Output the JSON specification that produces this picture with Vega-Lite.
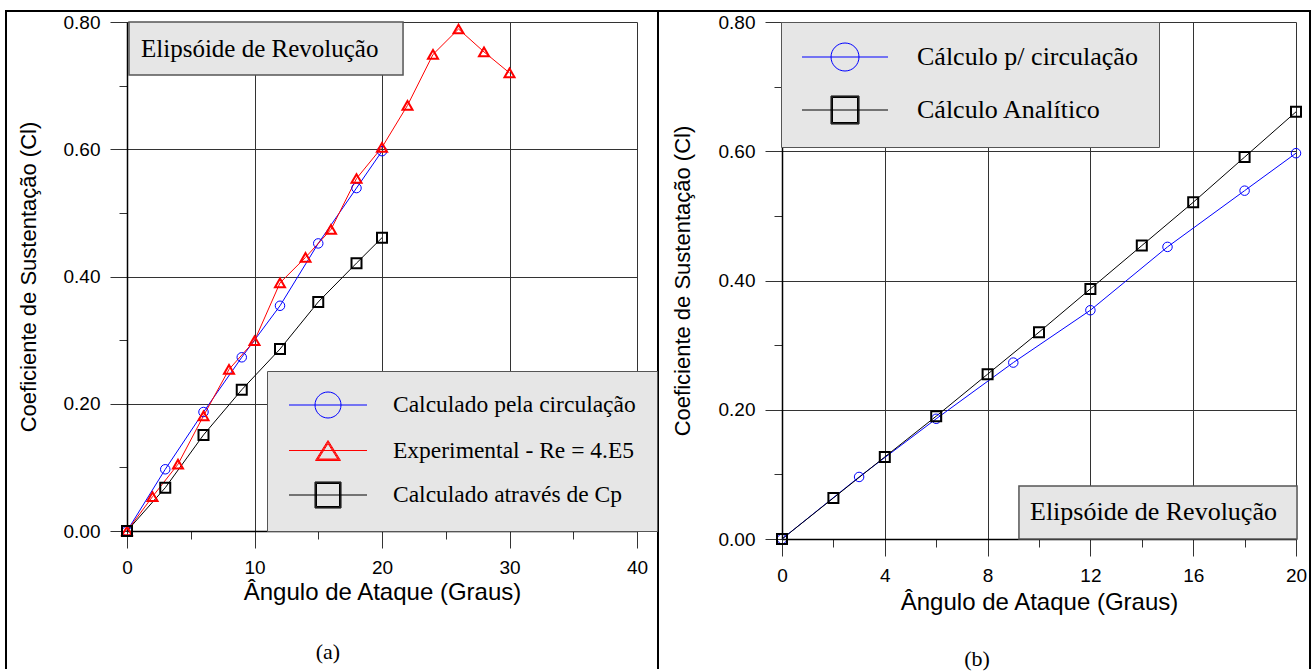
{
  "$schema": "https://vega.github.io/schema/vega-lite/v6.json",
  "background": "white",
  "padding": {"left": 5, "top": 8, "right": 0, "bottom": 0},
  "autosize": {"type": "pad"},
  "spacing": -4,
  "datasets": {
    "a": [
      {"serie": "Calculado pela circulação", "alpha": 0, "cl": 0},
      {"serie": "Calculado pela circulação", "alpha": 3, "cl": 0.097},
      {"serie": "Calculado pela circulação", "alpha": 6, "cl": 0.187},
      {"serie": "Calculado pela circulação", "alpha": 9, "cl": 0.273},
      {"serie": "Calculado pela circulação", "alpha": 12, "cl": 0.354},
      {"serie": "Calculado pela circulação", "alpha": 15, "cl": 0.452},
      {"serie": "Calculado pela circulação", "alpha": 18, "cl": 0.539},
      {"serie": "Calculado pela circulação", "alpha": 20, "cl": 0.597},
      {"serie": "Experimental - Re = 4.E5", "alpha": 0, "cl": 0},
      {"serie": "Experimental - Re = 4.E5", "alpha": 2, "cl": 0.054},
      {"serie": "Experimental - Re = 4.E5", "alpha": 4, "cl": 0.105},
      {"serie": "Experimental - Re = 4.E5", "alpha": 6, "cl": 0.181},
      {"serie": "Experimental - Re = 4.E5", "alpha": 8, "cl": 0.254},
      {"serie": "Experimental - Re = 4.E5", "alpha": 10, "cl": 0.299},
      {"serie": "Experimental - Re = 4.E5", "alpha": 12, "cl": 0.39},
      {"serie": "Experimental - Re = 4.E5", "alpha": 14, "cl": 0.43},
      {"serie": "Experimental - Re = 4.E5", "alpha": 16, "cl": 0.474},
      {"serie": "Experimental - Re = 4.E5", "alpha": 18, "cl": 0.554},
      {"serie": "Experimental - Re = 4.E5", "alpha": 20, "cl": 0.603},
      {"serie": "Experimental - Re = 4.E5", "alpha": 22, "cl": 0.669},
      {"serie": "Experimental - Re = 4.E5", "alpha": 24, "cl": 0.749},
      {"serie": "Experimental - Re = 4.E5", "alpha": 26, "cl": 0.789},
      {"serie": "Experimental - Re = 4.E5", "alpha": 28, "cl": 0.753},
      {"serie": "Experimental - Re = 4.E5", "alpha": 30, "cl": 0.72},
      {"serie": "Calculado através de Cp", "alpha": 0, "cl": 0},
      {"serie": "Calculado através de Cp", "alpha": 3, "cl": 0.068},
      {"serie": "Calculado através de Cp", "alpha": 6, "cl": 0.151},
      {"serie": "Calculado através de Cp", "alpha": 9, "cl": 0.222},
      {"serie": "Calculado através de Cp", "alpha": 12, "cl": 0.286},
      {"serie": "Calculado através de Cp", "alpha": 15, "cl": 0.36},
      {"serie": "Calculado através de Cp", "alpha": 18, "cl": 0.421},
      {"serie": "Calculado através de Cp", "alpha": 20, "cl": 0.461}
    ],
    "b": [
      {"serie": "Cálculo p/ circulação", "alpha": 0, "cl": 0},
      {"serie": "Cálculo p/ circulação", "alpha": 3, "cl": 0.096},
      {"serie": "Cálculo p/ circulação", "alpha": 6, "cl": 0.186},
      {"serie": "Cálculo p/ circulação", "alpha": 9, "cl": 0.273},
      {"serie": "Cálculo p/ circulação", "alpha": 12, "cl": 0.354},
      {"serie": "Cálculo p/ circulação", "alpha": 15, "cl": 0.452},
      {"serie": "Cálculo p/ circulação", "alpha": 18, "cl": 0.539},
      {"serie": "Cálculo p/ circulação", "alpha": 20, "cl": 0.597},
      {"serie": "Cálculo Analítico", "alpha": 0, "cl": 0},
      {"serie": "Cálculo Analítico", "alpha": 2, "cl": 0.0635},
      {"serie": "Cálculo Analítico", "alpha": 4, "cl": 0.127},
      {"serie": "Cálculo Analítico", "alpha": 6, "cl": 0.19},
      {"serie": "Cálculo Analítico", "alpha": 8, "cl": 0.255},
      {"serie": "Cálculo Analítico", "alpha": 10, "cl": 0.32},
      {"serie": "Cálculo Analítico", "alpha": 12, "cl": 0.387},
      {"serie": "Cálculo Analítico", "alpha": 14, "cl": 0.454},
      {"serie": "Cálculo Analítico", "alpha": 16, "cl": 0.521},
      {"serie": "Cálculo Analítico", "alpha": 18, "cl": 0.591},
      {"serie": "Cálculo Analítico", "alpha": 20, "cl": 0.661}
    ]
  },
  "hconcat": [
    {
      "width": 510,
      "height": 509,
      "layer": [
        {
          "data": {"name": "a"},
          "mark": {"type": "line", "strokeWidth": 1},
          "encoding": {
            "x": {"field": "alpha", "type": "quantitative",
              "scale": {"domain": [0, 40], "nice": false, "zero": false},
              "axis": {
                "title": "Ângulo de Ataque (Graus)",
                "values": [0, 5, 10, 15, 20, 25, 30, 35, 40],
                "grid": true, "gridColor": "#333333", "gridWidth": 1,
                "gridOpacity": {"condition": {"test": "datum.value % 10 === 0", "value": 1}, "value": 0},
                "tickSize": {"condition": {"test": "datum.value % 10 === 0", "value": 17}, "value": 8},
                "tickColor": "#333333", "tickWidth": 1,
                "domainColor": "#000000", "domainWidth": 1.5,
                "labelExpr": "datum.value % 10 === 0 ? datum.label : ''",
                "labelFont": "Liberation Sans", "labelFontSize": 19, "labelColor": "#000000", "labelPadding": 10,
                "labelOverlap": false, "labelFlush": false, "labelBound": false,
                "titleFont": "Liberation Sans", "titleFontSize": 24, "titleFontWeight": "normal", "titleColor": "#000000", "titlePadding": 3
              }
            },
            "y": {"field": "cl", "type": "quantitative",
              "scale": {"domain": [0, 0.8], "nice": false, "zero": false},
              "axis": {
                "title": "Coeficiente de Sustentação (Cl)",
                "values": [0, 0.1, 0.2, 0.3, 0.4, 0.5, 0.6, 0.7, 0.8],
                "grid": true, "gridColor": "#333333", "gridWidth": 1,
                "gridOpacity": {"condition": {"test": "round(datum.value*10) % 2 === 0", "value": 1}, "value": 0},
                "tickSize": {"condition": {"test": "round(datum.value*10) % 2 === 0", "value": 17}, "value": 8},
                "tickColor": "#333333", "tickWidth": 1,
                "domainColor": "#000000", "domainWidth": 1.5,
                "labelExpr": "round(datum.value*10) % 2 === 0 ? format(datum.value, '.2f') : ''",
                "labelFont": "Liberation Sans", "labelFontSize": 19, "labelColor": "#000000", "labelPadding": 10,
                "labelOverlap": false, "labelFlush": false, "labelBound": false,
                "titleFont": "Liberation Sans", "titleFontSize": 22, "titleFontWeight": "normal", "titleColor": "#000000", "titlePadding": 23
              }
            },
            "color": {"field": "serie", "type": "nominal",
              "scale": {"domain": ["Calculado pela circulação", "Experimental - Re = 4.E5", "Calculado através de Cp"], "range": ["#0000ff", "#ff0000", "#000000"]},
              "legend": null}
          }
        },
        {
          "data": {"name": "a"},
          "transform": [{"filter": "datum.serie === 'Calculado pela circulação'"}],
          "mark": {"type": "point", "shape": "circle", "filled": false, "color": "#0000ff", "size": 90, "strokeWidth": 1, "opacity": 1},
          "encoding": {"x": {"field": "alpha", "type": "quantitative"}, "y": {"field": "cl", "type": "quantitative"}}
        },
        {
          "data": {"name": "a"},
          "transform": [{"filter": "datum.serie === 'Experimental - Re = 4.E5'"}],
          "mark": {"type": "point", "shape": "triangle-up", "filled": false, "color": "#ff0000", "size": 100, "strokeWidth": 2, "opacity": 1},
          "encoding": {"x": {"field": "alpha", "type": "quantitative"}, "y": {"field": "cl", "type": "quantitative"}}
        },
        {
          "data": {"name": "a"},
          "transform": [{"filter": "datum.serie === 'Calculado através de Cp'"}],
          "mark": {"type": "point", "shape": "square", "filled": false, "color": "#000000", "size": 100, "strokeWidth": 2, "opacity": 1},
          "encoding": {"x": {"field": "alpha", "type": "quantitative"}, "y": {"field": "cl", "type": "quantitative"}}
        },
        {
          "data": {"values": [{}]},
          "mark": {"type": "rect", "fill": "#e6e6e6", "stroke": "#555555", "strokeWidth": 1.5, "clip": false},
          "encoding": {
            "x": {"datum": 0.157, "type": "quantitative"},
            "x2": {"datum": 21.65},
            "y": {"datum": 0.8, "type": "quantitative"},
            "y2": {"datum": 0.7167}
          }
        },
        {
          "data": {"values": [{}]},
          "mark": {"type": "text", "font": "Liberation Serif", "fontSize": 25, "align": "left", "baseline": "middle", "color": "#000000", "clip": false},
          "encoding": {
            "x": {"datum": 1.1, "type": "quantitative"},
            "y": {"datum": 0.7583, "type": "quantitative"},
            "text": {"value": "Elipsóide de Revolução"}
          }
        },
        {
          "data": {"values": [{}]},
          "mark": {"type": "rule", "color": "#000000", "strokeWidth": 2, "clip": false},
          "encoding": {
            "x": {"datum": -9.49, "type": "quantitative"},
            "x2": {"datum": 41.73},
            "y": {"datum": 0.8173, "type": "quantitative"}
          }
        },
        {
          "data": {"values": [{}]},
          "mark": {"type": "rule", "color": "#000000", "strokeWidth": 2, "clip": false},
          "encoding": {
            "x": {"datum": -9.49, "type": "quantitative"},
            "y": {"datum": 0.8189, "type": "quantitative"},
            "y2": {"datum": -0.2169}
          }
        },
        {
          "data": {"values": [{}]},
          "mark": {"type": "rule", "color": "#000000", "strokeWidth": 2, "clip": false},
          "encoding": {
            "x": {"datum": 41.647, "type": "quantitative"},
            "y": {"datum": 0.8189, "type": "quantitative"},
            "y2": {"datum": -0.2169}
          }
        },
        {
          "data": {"values": [{}]},
          "mark": {"type": "text", "font": "Liberation Serif", "fontSize": 22, "align": "center", "baseline": "middle", "color": "#000000", "clip": false},
          "encoding": {
            "x": {"datum": 15.76, "type": "quantitative"},
            "y": {"datum": -0.19, "type": "quantitative"},
            "text": {"value": "(a)"}
          }
        },
        {
          "data": {"values": [{"lg1": "-"}]},
          "transform": [{"filter": "false"}],
          "mark": {"type": "point", "filled": false, "opacity": 1, "strokeWidth": 1},
          "encoding": {
            "color": {"field": "lg1", "type": "nominal",
              "scale": {"domain": ["Calculado pela circulação", "Experimental - Re = 4.E5", "Calculado através de Cp"], "range": ["#0000ff", "#ff0000", "#000000"]},
              "legend": {
                "title": null, "orient": "none", "legendX": 140, "legendY": 349, "direction": "vertical",
                "padding": 21, "symbolOffset": 27, "labelOffset": 52, "rowPadding": 17.5,
                "symbolSize": 625, "symbolStrokeWidth": 1, "symbolOpacity": 1,
                "labelFont": "Liberation Serif", "labelFontSize": 23.5, "labelColor": "#000000", "labelLimit": 0,
                "fillColor": "#e6e6e6", "strokeColor": "#555555"
              }
            },
            "shape": {"field": "lg1", "type": "nominal",
              "scale": {"domain": ["Calculado pela circulação", "Experimental - Re = 4.E5", "Calculado através de Cp"],
                "range": [
                  "M-3.12,0H3.12M-1.04,0A1.04,1.04,0,1,1,1.04,0A1.04,1.04,0,1,1,-1.04,0",
                  "M-3.12,0H3.12M0,-0.8L1,0.8H-1ZM0,-0.683L0.89,0.741H-0.89ZM0,-0.565L0.78,0.683H-0.78Z",
                  "M-3.12,0H3.12M-1.04,-1.04H1.04V1.04H-1.04ZM-0.98,-0.98H0.98V0.98H-0.98ZM-0.92,-0.92H0.92V0.92H-0.92Z"
                ]},
              "legend": {
                "title": null, "orient": "none", "legendX": 140, "legendY": 349, "direction": "vertical",
                "padding": 21, "symbolOffset": 27, "labelOffset": 52, "rowPadding": 17.5,
                "symbolSize": 625, "symbolStrokeWidth": 1, "symbolOpacity": 1,
                "labelFont": "Liberation Serif", "labelFontSize": 23.5, "labelColor": "#000000", "labelLimit": 0,
                "fillColor": "#e6e6e6", "strokeColor": "#555555"
              }
            }
          }
        }
      ],
      "resolve": {"scale": {"color": "independent", "shape": "independent"}, "legend": {"color": "independent", "shape": "independent"}}
    },
    {
      "width": 514,
      "height": 517,
      "layer": [
        {
          "data": {"name": "b"},
          "mark": {"type": "line", "strokeWidth": 1},
          "encoding": {
            "x": {"field": "alpha", "type": "quantitative",
              "scale": {"domain": [0, 20], "nice": false, "zero": false},
              "axis": {
                "title": "Ângulo de Ataque (Graus)",
                "values": [0, 2, 4, 6, 8, 10, 12, 14, 16, 18, 20],
                "grid": true, "gridColor": "#333333", "gridWidth": 1,
                "gridOpacity": {"condition": {"test": "datum.value % 4 === 0", "value": 1}, "value": 0},
                "tickSize": {"condition": {"test": "datum.value % 4 === 0", "value": 17}, "value": 8},
                "tickColor": "#333333", "tickWidth": 1,
                "domainColor": "#000000", "domainWidth": 1.5,
                "labelExpr": "datum.value % 4 === 0 ? datum.label : ''",
                "labelFont": "Liberation Sans", "labelFontSize": 19, "labelColor": "#000000", "labelPadding": 10,
                "labelOverlap": false, "labelFlush": false, "labelBound": false,
                "titleFont": "Liberation Sans", "titleFontSize": 24, "titleFontWeight": "normal", "titleColor": "#000000", "titlePadding": 5
              }
            },
            "y": {"field": "cl", "type": "quantitative",
              "scale": {"domain": [0, 0.8], "nice": false, "zero": false},
              "axis": {
                "title": "Coeficiente de Sustentação (Cl)",
                "values": [0, 0.1, 0.2, 0.3, 0.4, 0.5, 0.6, 0.7, 0.8],
                "grid": true, "gridColor": "#333333", "gridWidth": 1,
                "gridOpacity": {"condition": {"test": "round(datum.value*10) % 2 === 0", "value": 1}, "value": 0},
                "tickSize": {"condition": {"test": "round(datum.value*10) % 2 === 0", "value": 17}, "value": 8},
                "tickColor": "#333333", "tickWidth": 1,
                "domainColor": "#000000", "domainWidth": 1.5,
                "labelExpr": "round(datum.value*10) % 2 === 0 ? format(datum.value, '.2f') : ''",
                "labelFont": "Liberation Sans", "labelFontSize": 19, "labelColor": "#000000", "labelPadding": 10,
                "labelOverlap": false, "labelFlush": false, "labelBound": false,
                "titleFont": "Liberation Sans", "titleFontSize": 22, "titleFontWeight": "normal", "titleColor": "#000000", "titlePadding": 24
              }
            },
            "color": {"field": "serie", "type": "nominal",
              "scale": {"domain": ["Cálculo p/ circulação", "Cálculo Analítico"], "range": ["#0000ff", "#000000"]},
              "legend": null}
          }
        },
        {
          "data": {"name": "b"},
          "transform": [{"filter": "datum.serie === 'Cálculo p/ circulação'"}],
          "mark": {"type": "point", "shape": "circle", "filled": false, "color": "#0000ff", "size": 90, "strokeWidth": 1, "opacity": 1},
          "encoding": {"x": {"field": "alpha", "type": "quantitative"}, "y": {"field": "cl", "type": "quantitative"}}
        },
        {
          "data": {"name": "b"},
          "transform": [{"filter": "datum.serie === 'Cálculo Analítico'"}],
          "mark": {"type": "point", "shape": "square", "filled": false, "color": "#000000", "size": 100, "strokeWidth": 2, "opacity": 1},
          "encoding": {"x": {"field": "alpha", "type": "quantitative"}, "y": {"field": "cl", "type": "quantitative"}}
        },
        {
          "data": {"values": [{}]},
          "mark": {"type": "rect", "fill": "#e6e6e6", "stroke": "#555555", "strokeWidth": 1.5, "clip": false},
          "encoding": {
            "x": {"datum": 9.22, "type": "quantitative"},
            "x2": {"datum": 20.04},
            "y": {"datum": 0.082, "type": "quantitative"},
            "y2": {"datum": 0}
          }
        },
        {
          "data": {"values": [{}]},
          "mark": {"type": "text", "font": "Liberation Serif", "fontSize": 26, "align": "left", "baseline": "middle", "color": "#000000", "clip": false},
          "encoding": {
            "x": {"datum": 9.65, "type": "quantitative"},
            "y": {"datum": 0.0418, "type": "quantitative"},
            "text": {"value": "Elipsóide de Revolução"}
          }
        },
        {
          "data": {"values": [{}]},
          "mark": {"type": "rule", "color": "#000000", "strokeWidth": 2, "clip": false},
          "encoding": {
            "x": {"datum": -4.786, "type": "quantitative"},
            "x2": {"datum": 20.584},
            "y": {"datum": 0.817, "type": "quantitative"}
          }
        },
        {
          "data": {"values": [{}]},
          "mark": {"type": "rule", "color": "#000000", "strokeWidth": 2, "clip": false},
          "encoding": {
            "x": {"datum": 20.545, "type": "quantitative"},
            "y": {"datum": 0.8186, "type": "quantitative"},
            "y2": {"datum": -0.2012}
          }
        },
        {
          "data": {"values": [{}]},
          "mark": {"type": "text", "font": "Liberation Serif", "fontSize": 22, "align": "center", "baseline": "middle", "color": "#000000", "clip": false},
          "encoding": {
            "x": {"datum": 7.588, "type": "quantitative"},
            "y": {"datum": -0.1857, "type": "quantitative"},
            "text": {"value": "(b)"}
          }
        },
        {
          "data": {"values": [{"lg3": "-"}]},
          "transform": [{"filter": "false"}],
          "mark": {"type": "point", "filled": false, "opacity": 1, "strokeWidth": 1},
          "encoding": {
            "color": {"field": "lg3", "type": "nominal",
              "scale": {"domain": ["Cálculo p/ circulação", "Cálculo Analítico"], "range": ["#0000ff", "#000000"]},
              "legend": {
                "title": null, "orient": "none", "legendX": -1, "legendY": 0, "direction": "vertical",
                "padding": 21, "symbolOffset": 29, "labelOffset": 58, "rowPadding": 21,
                "symbolSize": 729, "symbolStrokeWidth": 1, "symbolOpacity": 1,
                "labelFont": "Liberation Serif", "labelFontSize": 26, "labelColor": "#000000", "labelLimit": 0,
                "fillColor": "#e6e6e6", "strokeColor": "#555555"
              }
            },
            "shape": {"field": "lg3", "type": "nominal",
              "scale": {"domain": ["Cálculo p/ circulação", "Cálculo Analítico"],
                "range": [
                  "M-3.185,0H3.185M-1.037,0A1.037,1.037,0,1,1,1.037,0A1.037,1.037,0,1,1,-1.037,0",
                  "M-3.185,0H3.185M-1.037,-1.037H1.037V1.037H-1.037ZM-0.98,-0.98H0.98V0.98H-0.98ZM-0.926,-0.926H0.926V0.926H-0.926Z"
                ]},
              "legend": {
                "title": null, "orient": "none", "legendX": -1, "legendY": 0, "direction": "vertical",
                "padding": 21, "symbolOffset": 29, "labelOffset": 58, "rowPadding": 21,
                "symbolSize": 729, "symbolStrokeWidth": 1, "symbolOpacity": 1,
                "labelFont": "Liberation Serif", "labelFontSize": 26, "labelColor": "#000000", "labelLimit": 0,
                "fillColor": "#e6e6e6", "strokeColor": "#555555"
              }
            }
          }
        }
      ],
      "resolve": {"scale": {"color": "independent", "shape": "independent"}, "legend": {"color": "independent", "shape": "independent"}}
    }
  ],
  "resolve": {"scale": {"shape": "independent", "color": "independent"}, "legend": {"shape": "independent", "color": "independent"}},
  "config": {"view": {"stroke": null}}
}
